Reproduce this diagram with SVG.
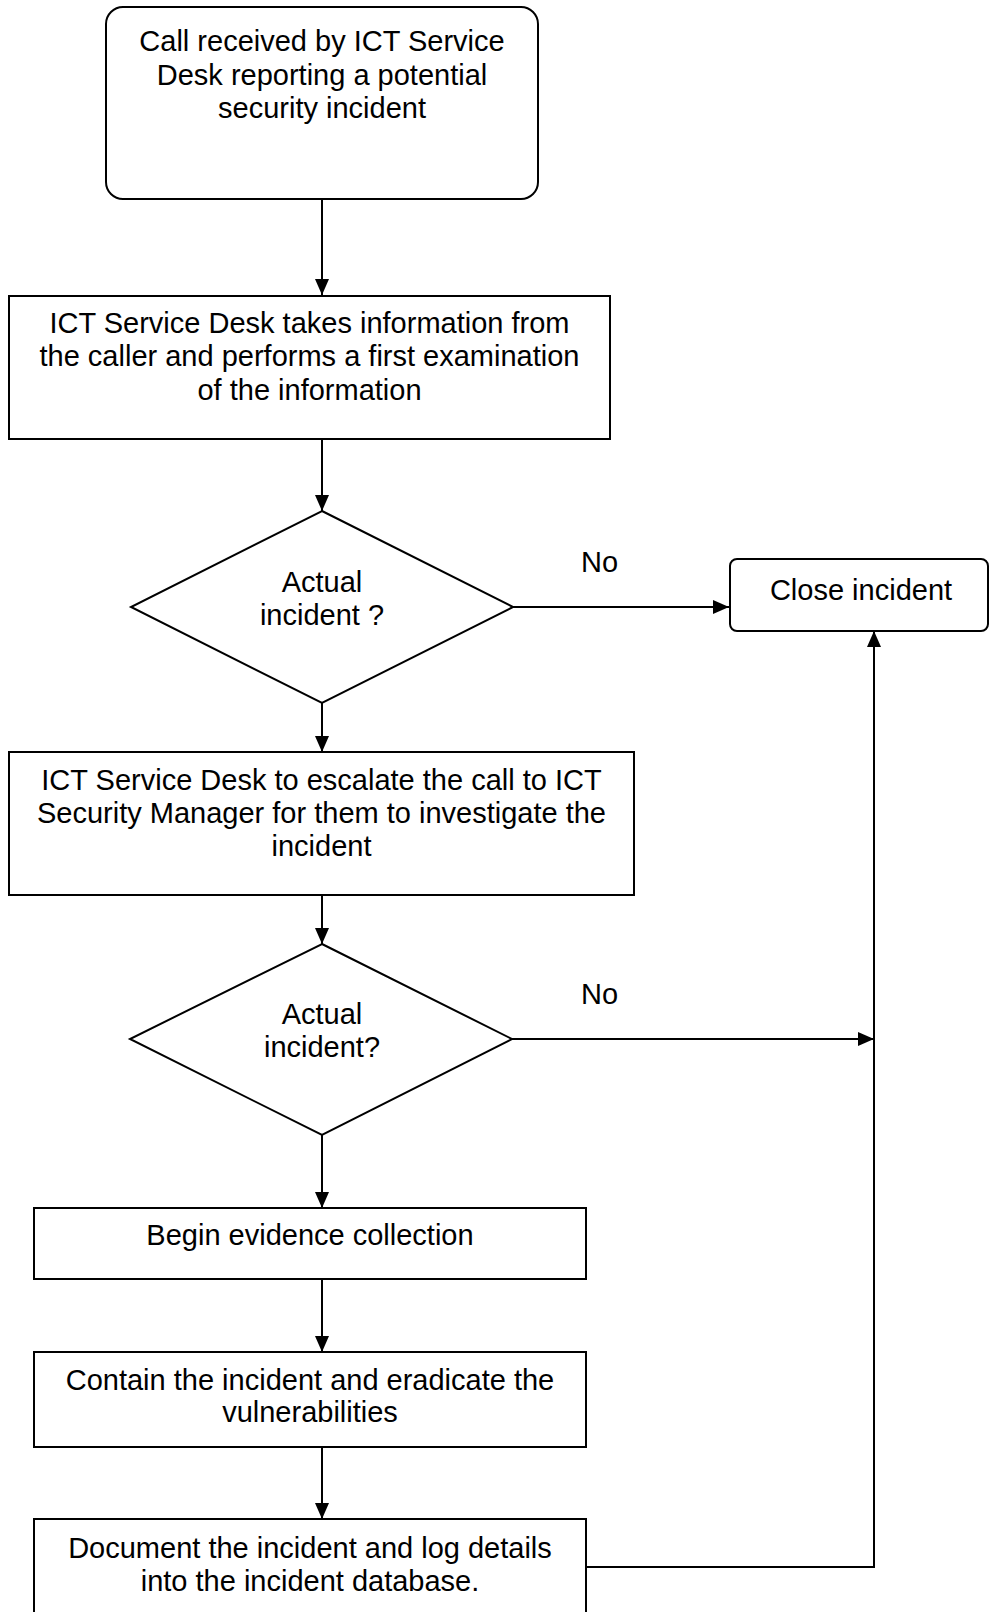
<svg xmlns="http://www.w3.org/2000/svg" width="989" height="1612" viewBox="0 0 989 1612">
  <style>
    .shape { fill: #ffffff; stroke: #000000; stroke-width: 2; }
    .t { font-family: "Liberation Sans", Arial, sans-serif; font-size: 29px; fill: #000000; text-anchor: middle; }
    .conn { fill: none; stroke: #000000; stroke-width: 2; }
  </style>
  <defs>
    <marker id="arr" markerUnits="userSpaceOnUse" markerWidth="16" markerHeight="14" refX="16" refY="7" orient="auto">
      <path d="M0,0 L16,7 L0,14 z" fill="#000000"/>
    </marker>
  </defs>
  <rect x="0" y="0" width="989" height="1612" fill="#ffffff"/>

  <g id="connectors">
    <line class="conn" x1="322" y1="199" x2="322" y2="295" marker-end="url(#arr)"/>
    <line class="conn" x1="322" y1="439" x2="322" y2="511" marker-end="url(#arr)"/>
    <line class="conn" x1="513" y1="607" x2="729" y2="607" marker-end="url(#arr)"/>
    <line class="conn" x1="322" y1="703" x2="322" y2="752" marker-end="url(#arr)"/>
    <line class="conn" x1="322" y1="895" x2="322" y2="944" marker-end="url(#arr)"/>
    <line class="conn" x1="512" y1="1039" x2="874" y2="1039" marker-end="url(#arr)"/>
    <line class="conn" x1="322" y1="1135" x2="322" y2="1208" marker-end="url(#arr)"/>
    <line class="conn" x1="322" y1="1279" x2="322" y2="1352" marker-end="url(#arr)"/>
    <line class="conn" x1="322" y1="1447" x2="322" y2="1519" marker-end="url(#arr)"/>
    <polyline class="conn" points="586,1567 874,1567 874,631" marker-end="url(#arr)"/>
    <text class="t" x="599.5" y="572">No</text>
    <text class="t" x="599.5" y="1003.5">No</text>
  </g>

  <g id="start">
    <rect class="shape" x="106" y="7" width="432" height="192" rx="17" ry="17"/>
    <text class="t" x="322" y="51">Call received by ICT Service</text>
    <text class="t" x="322" y="84.5">Desk reporting a potential</text>
    <text class="t" x="322" y="118">security incident</text>
  </g>

  <g id="first-exam">
    <rect class="shape" x="9" y="296" width="601" height="143"/>
    <text class="t" x="309.5" y="333">ICT Service Desk takes information from</text>
    <text class="t" x="309.5" y="366">the caller and performs a first examination</text>
    <text class="t" x="309.5" y="399.5">of the information</text>
  </g>

  <g id="decision1">
    <polygon class="shape" points="322,511 513,607 322,703 131,607"/>
    <text class="t" x="322" y="592">Actual</text>
    <text class="t" x="322" y="625">incident ?</text>
  </g>

  <g id="close">
    <rect class="shape" x="730" y="559" width="258" height="72" rx="7" ry="7"/>
    <text class="t" x="861" y="600">Close incident</text>
  </g>

  <g id="escalate">
    <rect class="shape" x="9" y="752" width="625" height="143"/>
    <text class="t" x="321.5" y="790">ICT Service Desk to escalate the call to ICT</text>
    <text class="t" x="321.5" y="823">Security Manager for them to investigate the</text>
    <text class="t" x="321.5" y="856">incident</text>
  </g>

  <g id="decision2">
    <polygon class="shape" points="322,944 512,1039 322,1135 130,1039"/>
    <text class="t" x="322" y="1023.5">Actual</text>
    <text class="t" x="322" y="1057">incident?</text>
  </g>

  <g id="evidence">
    <rect class="shape" x="34" y="1208" width="552" height="71"/>
    <text class="t" x="310" y="1245">Begin evidence collection</text>
  </g>

  <g id="contain">
    <rect class="shape" x="34" y="1352" width="552" height="95"/>
    <text class="t" x="310" y="1389.5">Contain the incident and eradicate the</text>
    <text class="t" x="310" y="1422">vulnerabilities</text>
  </g>

  <g id="document">
    <rect class="shape" x="34" y="1519" width="552" height="110"/>
    <text class="t" x="310" y="1558">Document the incident and log details</text>
    <text class="t" x="310" y="1591">into the incident database.</text>
  </g>
</svg>
